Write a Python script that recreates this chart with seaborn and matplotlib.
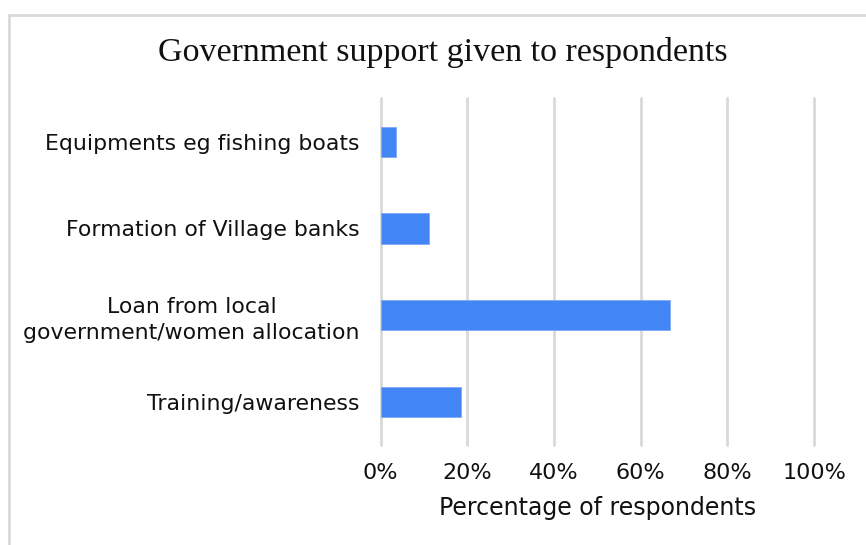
import matplotlib
matplotlib.use("Agg")
import matplotlib.pyplot as plt
from matplotlib.lines import Line2D
from matplotlib.ticker import FuncFormatter
import seaborn as sns
import pandas as pd

# Survey results: share of respondents receiving each form of support (%)
categories = [
    "Equipments eg fishing boats",
    "Formation of Village banks",
    "Loan from local\ngovernment/women allocation",
    "Training/awareness",
]
percentages = [3.6, 11.1, 66.8, 18.5]
x_ticks = [0, 20, 40, 60, 80, 100]

df = pd.DataFrame({"support": categories, "pct": percentages})

sns.set_theme(style="white")
plt.rcParams["font.family"] = ["DejaVu Sans"]

fig = plt.figure(figsize=(8.66, 5.45), dpi=100)
ax = fig.add_axes([0.4396, 0.1829, 0.9400 - 0.4396, 0.8196 - 0.1829])

sns.barplot(data=df, x="pct", y="support", orient="h", color="#4285F4",
            saturation=1, width=0.35, edgecolor="#7fa9f7", linewidth=0.6,
            ax=ax, zorder=3)

ax.set_xlim(0, 100)
ax.set_xticks(x_ticks)
ax.xaxis.set_major_formatter(FuncFormatter(lambda v, _: f"{v:.0f}%"))
ax.grid(axis="x", color="#d9d9d9", linewidth=2, zorder=0)
ax.grid(axis="y", visible=False)
for gl in ax.get_xgridlines():
    gl.set_clip_on(False)
for s in ax.spines.values():
    s.set_visible(False)
ax.tick_params(axis="x", length=0, pad=13, labelsize=16, colors="#111111")
ax.tick_params(axis="y", length=0, pad=15, labelsize=15.8, colors="#111111")
for lbl in ax.get_yticklabels():
    lbl.set_multialignment("center")
    lbl.set_linespacing(1.35)
ax.set_ylabel("")
ax.set_xlabel("Percentage of respondents", fontsize=17, color="#111111", labelpad=9)

fig.text(443 / 866, 1 - 61 / 545, "Government support given to respondents",
         ha="center", va="baseline", fontsize=24.5, family="Liberation Serif",
         color="#111111")

# thin frame around the chart area
fig.add_artist(Line2D([9 / 866, 1.0], [1 - 15 / 545, 1 - 15 / 545],
                      transform=fig.transFigure, color="#d9d9d9", linewidth=2))
fig.add_artist(Line2D([9 / 866, 9 / 866], [0, 1 - 15 / 545],
                      transform=fig.transFigure, color="#d9d9d9", linewidth=2))

fig.savefig("out.png", dpi=100)
